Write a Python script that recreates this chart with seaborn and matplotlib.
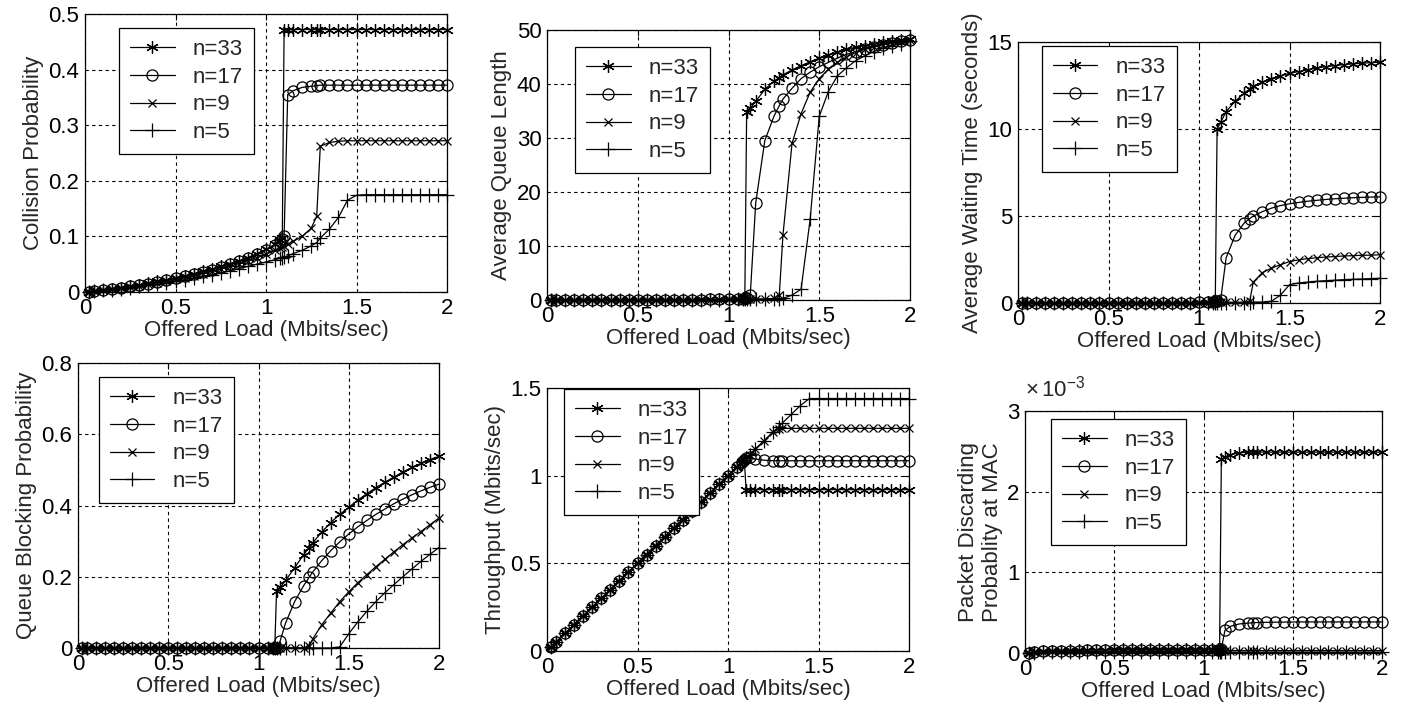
import numpy as np
import pandas as pd
import seaborn as sns
import matplotlib.pyplot as plt
from matplotlib.ticker import FuncFormatter

# offered load grid (Mbits/sec), shared by every curve
load = [0.02, 0.05, 0.10, 0.15, 0.20, 0.25, 0.30, 0.35, 0.40, 0.45, 0.50, 0.55,
        0.60, 0.65, 0.70, 0.75, 0.80, 0.85, 0.90, 0.95, 1.00, 1.05,
        1.08, 1.09, 1.10, 1.12, 1.15, 1.20, 1.25, 1.28,
        1.30, 1.35, 1.40, 1.45, 1.50, 1.55, 1.60, 1.65, 1.70, 1.75, 1.80, 1.85, 1.90, 1.95, 2.00]

labels = ['n=33', 'n=17', 'n=9', 'n=5']

# collision probability
coll_33 = [0.000, 0.002, 0.004, 0.006, 0.008, 0.011, 0.013, 0.016, 0.019, 0.022, 0.026, 0.029,
           0.033, 0.037, 0.041, 0.046, 0.051, 0.056, 0.062, 0.069, 0.077, 0.086,
           0.094, 0.098, 0.472, 0.472, 0.472, 0.472, 0.472, 0.472,
           0.472, 0.472, 0.472, 0.472, 0.472, 0.472, 0.472, 0.472, 0.472, 0.472, 0.472, 0.472, 0.472, 0.472, 0.472]
coll_17 = [0.000, 0.002, 0.004, 0.006, 0.008, 0.010, 0.012, 0.015, 0.018, 0.021, 0.025, 0.028,
           0.032, 0.036, 0.040, 0.045, 0.050, 0.055, 0.061, 0.068, 0.075, 0.084,
           0.092, 0.096, 0.100, 0.355, 0.362, 0.368, 0.370, 0.371,
           0.372, 0.372, 0.372, 0.372, 0.372, 0.372, 0.372, 0.372, 0.372, 0.372, 0.372, 0.372, 0.372, 0.372, 0.372]
coll_9 = [0.000, 0.002, 0.003, 0.005, 0.007, 0.009, 0.011, 0.014, 0.017, 0.020, 0.023, 0.026,
          0.029, 0.033, 0.037, 0.041, 0.046, 0.051, 0.056, 0.062, 0.068, 0.075,
          0.079, 0.081, 0.083, 0.086, 0.091, 0.100, 0.115, 0.136,
          0.262, 0.269, 0.271, 0.272, 0.272, 0.272, 0.272, 0.272, 0.272, 0.272, 0.272, 0.272, 0.272, 0.272, 0.272]
coll_5 = [0.000, 0.001, 0.003, 0.004, 0.006, 0.008, 0.010, 0.012, 0.014, 0.017, 0.019, 0.022,
          0.025, 0.028, 0.031, 0.034, 0.038, 0.042, 0.046, 0.050, 0.054, 0.058,
          0.061, 0.062, 0.063, 0.065, 0.069, 0.075, 0.083, 0.089,
          0.097, 0.113, 0.134, 0.165, 0.174, 0.175, 0.175, 0.175, 0.175, 0.175, 0.175, 0.175, 0.175, 0.175, 0.175]

# average queue length
queue_33 = [0.0, 0.0, 0.0, 0.0, 0.0, 0.0, 0.0, 0.0, 0.0, 0.0, 0.0, 0.0,
            0.0, 0.0, 0.0, 0.0, 0.0, 0.1, 0.1, 0.1, 0.2, 0.2,
            0.3, 0.5, 34.8, 35.5, 36.8, 39.0, 40.5, 41.2,
            41.7, 42.6, 43.4, 44.1, 44.8, 45.4, 45.9, 46.4, 46.8, 47.1, 47.4, 47.7, 47.9, 48.1, 48.3]
queue_17 = [0.0, 0.0, 0.0, 0.0, 0.0, 0.0, 0.0, 0.0, 0.0, 0.0, 0.0, 0.0,
            0.0, 0.0, 0.0, 0.0, 0.0, 0.0, 0.1, 0.1, 0.1, 0.2,
            0.2, 0.3, 0.4, 1.0, 18.0, 29.5, 34.0, 36.0,
            37.2, 39.2, 41.0, 42.2, 43.2, 44.0, 44.8, 45.5, 46.0, 46.5, 46.9, 47.3, 47.6, 47.9, 48.1]
queue_9 = [0.0, 0.0, 0.0, 0.0, 0.0, 0.0, 0.0, 0.0, 0.0, 0.0, 0.0, 0.0,
           0.0, 0.0, 0.0, 0.0, 0.0, 0.0, 0.0, 0.0, 0.1, 0.1,
           0.1, 0.1, 0.1, 0.1, 0.2, 0.2, 0.3, 1.0,
           12.0, 29.0, 34.5, 38.5, 41.0, 42.7, 44.0, 45.0, 45.8, 46.4, 46.9, 47.3, 47.6, 47.9, 48.1]
queue_5 = [0.0, 0.0, 0.0, 0.0, 0.0, 0.0, 0.0, 0.0, 0.0, 0.0, 0.0, 0.0,
           0.0, 0.0, 0.0, 0.0, 0.0, 0.0, 0.0, 0.0, 0.0, 0.1,
           0.1, 0.1, 0.1, 0.1, 0.1, 0.1, 0.2, 0.2,
           0.3, 0.9, 2.0, 15.0, 34.0, 38.6, 41.5, 43.0, 44.3, 45.2, 46.0, 46.6, 47.1, 47.5, 47.9]

# average waiting time (seconds)
wait_33 = [0.0, 0.0, 0.0, 0.0, 0.0, 0.0, 0.0, 0.0, 0.0, 0.0, 0.0, 0.0,
           0.0, 0.0, 0.0, 0.0, 0.0, 0.0, 0.0, 0.0, 0.05, 0.05,
           0.1, 0.15, 10.0, 10.4, 11.0, 11.6, 12.05, 12.3,
           12.45, 12.7, 12.9, 13.05, 13.2, 13.3, 13.4, 13.5, 13.58, 13.64, 13.7, 13.74, 13.78, 13.81, 13.84]
wait_17 = [0.0, 0.0, 0.0, 0.0, 0.0, 0.0, 0.0, 0.0, 0.0, 0.0, 0.0, 0.0,
           0.0, 0.0, 0.0, 0.0, 0.0, 0.0, 0.0, 0.0, 0.05, 0.05,
           0.05, 0.1, 0.1, 0.2, 2.6, 3.9, 4.6, 4.85,
           5.0, 5.25, 5.45, 5.6, 5.7, 5.78, 5.85, 5.9, 5.95, 5.99, 6.02, 6.05, 6.07, 6.09, 6.1]
wait_9 = [0.0, 0.0, 0.0, 0.0, 0.0, 0.0, 0.0, 0.0, 0.0, 0.0, 0.0, 0.0,
          0.0, 0.0, 0.0, 0.0, 0.0, 0.0, 0.0, 0.0, 0.0, 0.0,
          0.0, 0.0, 0.05, 0.05, 0.05, 0.05, 0.05, 0.1,
          1.2, 1.75, 2.0, 2.2, 2.38, 2.48, 2.55, 2.6, 2.64, 2.67, 2.7, 2.72, 2.74, 2.75, 2.77]
wait_5 = [0.0, 0.0, 0.0, 0.0, 0.0, 0.0, 0.0, 0.0, 0.0, 0.0, 0.0, 0.0,
          0.0, 0.0, 0.0, 0.0, 0.0, 0.0, 0.0, 0.0, 0.0, 0.0,
          0.0, 0.0, 0.0, 0.0, 0.0, 0.0, 0.0, 0.0,
          0.05, 0.05, 0.1, 0.45, 1.05, 1.15, 1.2, 1.25, 1.28, 1.31, 1.34, 1.36, 1.38, 1.4, 1.42]

# queue blocking probability
block_33 = [0.000, 0.000, 0.000, 0.000, 0.000, 0.000, 0.000, 0.000, 0.000, 0.000, 0.000, 0.000,
            0.000, 0.000, 0.000, 0.000, 0.000, 0.000, 0.000, 0.000, 0.000, 0.000,
            0.000, 0.000, 0.160, 0.170, 0.190, 0.225, 0.262, 0.282,
            0.295, 0.325, 0.352, 0.375, 0.395, 0.415, 0.433, 0.450, 0.465, 0.480, 0.494, 0.507, 0.518, 0.529, 0.538]
block_17 = [0.000, 0.000, 0.000, 0.000, 0.000, 0.000, 0.000, 0.000, 0.000, 0.000, 0.000, 0.000,
            0.000, 0.000, 0.000, 0.000, 0.000, 0.000, 0.000, 0.000, 0.000, 0.000,
            0.000, 0.000, 0.000, 0.020, 0.070, 0.130, 0.175, 0.198,
            0.213, 0.245, 0.273, 0.298, 0.320, 0.340, 0.358, 0.375, 0.390, 0.405, 0.418, 0.430, 0.441, 0.451, 0.460]
block_9 = [0.000, 0.000, 0.000, 0.000, 0.000, 0.000, 0.000, 0.000, 0.000, 0.000, 0.000, 0.000,
           0.000, 0.000, 0.000, 0.000, 0.000, 0.000, 0.000, 0.000, 0.000, 0.000,
           0.000, 0.000, 0.000, 0.000, 0.000, 0.000, 0.000, 0.005,
           0.025, 0.065, 0.098, 0.130, 0.158, 0.183, 0.206, 0.228, 0.249, 0.270, 0.290, 0.309, 0.327, 0.346, 0.365]
block_5 = [0.000, 0.000, 0.000, 0.000, 0.000, 0.000, 0.000, 0.000, 0.000, 0.000, 0.000, 0.000,
           0.000, 0.000, 0.000, 0.000, 0.000, 0.000, 0.000, 0.000, 0.000, 0.000,
           0.000, 0.000, 0.000, 0.000, 0.000, 0.000, 0.000, 0.000,
           0.000, 0.000, 0.000, 0.003, 0.040, 0.073, 0.103, 0.130, 0.155, 0.178, 0.200, 0.222, 0.243, 0.263, 0.282]

# throughput (Mbits/sec)
thr_33 = [0.02, 0.05, 0.10, 0.15, 0.20, 0.25, 0.30, 0.35, 0.40, 0.45, 0.50, 0.55,
          0.60, 0.65, 0.70, 0.75, 0.80, 0.85, 0.90, 0.95, 1.00, 1.05,
          1.08, 1.09, 0.92, 0.92, 0.92, 0.92, 0.92, 0.92,
          0.92, 0.92, 0.92, 0.92, 0.92, 0.92, 0.92, 0.92, 0.92, 0.92, 0.92, 0.92, 0.92, 0.92, 0.92]
thr_17 = [0.02, 0.05, 0.10, 0.15, 0.20, 0.25, 0.30, 0.35, 0.40, 0.45, 0.50, 0.55,
          0.60, 0.65, 0.70, 0.75, 0.80, 0.85, 0.90, 0.95, 1.00, 1.05,
          1.08, 1.09, 1.10, 1.105, 1.095, 1.088, 1.085, 1.085,
          1.085, 1.085, 1.085, 1.085, 1.085, 1.085, 1.085, 1.085, 1.085, 1.085, 1.085, 1.085, 1.085, 1.085, 1.085]
thr_9 = [0.02, 0.05, 0.10, 0.15, 0.20, 0.25, 0.30, 0.35, 0.40, 0.45, 0.50, 0.55,
         0.60, 0.65, 0.70, 0.75, 0.80, 0.85, 0.90, 0.95, 1.00, 1.05,
         1.08, 1.09, 1.10, 1.12, 1.15, 1.20, 1.25, 1.265,
         1.27, 1.27, 1.27, 1.27, 1.27, 1.27, 1.27, 1.27, 1.27, 1.27, 1.27, 1.27, 1.27, 1.27, 1.27]
thr_5 = [0.02, 0.05, 0.10, 0.15, 0.20, 0.25, 0.30, 0.35, 0.40, 0.45, 0.50, 0.55,
         0.60, 0.65, 0.70, 0.75, 0.80, 0.85, 0.90, 0.95, 1.00, 1.05,
         1.08, 1.09, 1.10, 1.12, 1.15, 1.20, 1.25, 1.28,
         1.30, 1.35, 1.40, 1.44, 1.44, 1.44, 1.44, 1.44, 1.44, 1.44, 1.44, 1.44, 1.44, 1.44, 1.44]

# packet discarding probability at MAC (units of 1e-3)
disc_33 = [0.00, 0.01, 0.02, 0.03, 0.03, 0.04, 0.04, 0.04, 0.04, 0.04, 0.05, 0.05,
           0.05, 0.05, 0.05, 0.05, 0.05, 0.05, 0.05, 0.05, 0.05, 0.05,
           0.05, 0.05, 2.40, 2.43, 2.46, 2.48, 2.49, 2.49,
           2.49, 2.49, 2.49, 2.49, 2.49, 2.49, 2.49, 2.49, 2.49, 2.49, 2.49, 2.49, 2.49, 2.49, 2.49]
disc_17 = [0.00, 0.01, 0.02, 0.02, 0.03, 0.03, 0.03, 0.04, 0.04, 0.04, 0.04, 0.04,
           0.04, 0.04, 0.04, 0.04, 0.04, 0.04, 0.04, 0.04, 0.04, 0.04,
           0.04, 0.04, 0.05, 0.28, 0.33, 0.36, 0.37, 0.375,
           0.378, 0.38, 0.382, 0.383, 0.384, 0.385, 0.385, 0.385, 0.385, 0.385, 0.385, 0.385, 0.385, 0.385, 0.385]
disc_9 = [0.00, 0.01, 0.01, 0.02, 0.02, 0.02, 0.02, 0.02, 0.02, 0.02, 0.02, 0.02,
          0.02, 0.02, 0.02, 0.02, 0.02, 0.02, 0.02, 0.02, 0.02, 0.02,
          0.02, 0.02, 0.03, 0.03, 0.03, 0.03, 0.03, 0.03,
          0.03, 0.03, 0.03, 0.03, 0.03, 0.03, 0.03, 0.03, 0.03, 0.03, 0.03, 0.03, 0.03, 0.03, 0.03]
disc_5 = [0.00, 0.00, 0.01, 0.01, 0.01, 0.01, 0.01, 0.01, 0.01, 0.01, 0.01, 0.01,
          0.01, 0.01, 0.01, 0.01, 0.01, 0.01, 0.01, 0.01, 0.01, 0.01,
          0.01, 0.01, 0.01, 0.01, 0.01, 0.01, 0.01, 0.01,
          0.01, 0.01, 0.01, 0.01, 0.01, 0.01, 0.01, 0.01, 0.01, 0.01, 0.01, 0.01, 0.01, 0.01, 0.01]

sns.set_style('white')
plt.rcParams['font.family'] = ['Liberation Sans', 'DejaVu Sans']
plt.rcParams['font.size'] = 16
plt.rcParams['mathtext.fontset'] = 'custom'
plt.rcParams['mathtext.rm'] = 'Liberation Sans'

# MATLAB-like markers: asterisk, circle, x, plus
markers = [(6, 2, 0), 'o', 'x', '+']
msizes = [9, 8, 6, 10]

# panel boxes in pixels: left, top, right, bottom
panels = [
    dict(box=(85, 14, 447, 292), series=[coll_33, coll_17, coll_9, coll_5],
         ylim=(0, 0.5), yticks=[0, 0.1, 0.2, 0.3, 0.4, 0.5],
         ylabel='Collision Probability', leg=(0.094, 0.95)),
    dict(box=(547, 30, 910, 300), series=[queue_33, queue_17, queue_9, queue_5],
         ylim=(0, 50), yticks=[0, 10, 20, 30, 40, 50],
         ylabel='Average Queue Length', leg=(0.077, 0.937)),
    dict(box=(1018, 42, 1380, 303), series=[wait_33, wait_17, wait_9, wait_5],
         ylim=(0, 15), yticks=[0, 5, 10, 15],
         ylabel='Average Waiting Time (seconds)', leg=(0.066, 0.985)),
    dict(box=(78, 363, 439, 648), series=[block_33, block_17, block_9, block_5],
         ylim=(0, 0.8), yticks=[0, 0.2, 0.4, 0.6, 0.8],
         ylabel='Queue Blocking Probability', leg=(0.058, 0.951)),
    dict(box=(547, 388, 909, 651), series=[thr_33, thr_17, thr_9, thr_5],
         ylim=(0, 1.5), yticks=[0, 0.5, 1, 1.5],
         ylabel='Throughput (Mbits/sec)', leg=(0.047, 0.996)),
    dict(box=(1025, 411, 1382, 653), series=[disc_33, disc_17, disc_9, disc_5],
         ylim=(0, 3), yticks=[0, 1, 2, 3],
         ylabel='Packet Discarding\nProbablity at MAC', leg=(0.073, 0.967)),
]

W, H = 1402, 709
fig = plt.figure(figsize=(W / 100, H / 100), dpi=100)

for i, p in enumerate(panels):
    l, t, r, b = p['box']
    ax = fig.add_axes([l / W, 1 - b / H, (r - l) / W, (b - t) / H])
    for vals, lab, m, ms in zip(p['series'], labels, markers, msizes):
        df = pd.DataFrame({'load': load, 'value': vals})
        sns.lineplot(data=df, x='load', y='value', ax=ax, color='k', lw=0.9,
                     marker=m, ms=ms, mfc='none', mec='k', mew=0.9,
                     estimator=None, sort=False, label=lab, clip_on=False)
    ax.set_xlim(0, 2)
    ax.set_ylim(*p['ylim'])
    ax.set_xticks([0, 0.5, 1, 1.5, 2])
    ax.set_yticks(p['yticks'])
    fmt = FuncFormatter(lambda v, pos: '%g' % v)
    ax.xaxis.set_major_formatter(fmt)
    ax.yaxis.set_major_formatter(fmt)
    ax.grid(True, color='k', ls=(0, (3, 3)), lw=0.8)
    ax.set_axisbelow(True)
    ax.tick_params(direction='in', length=4, width=0.8, top=True, right=True,
                   labelsize=16, pad=4, colors='k')
    for s in ax.spines.values():
        s.set_color('k')
        s.set_linewidth(0.9)
    ax.set_xlabel('Offered Load (Mbits/sec)', fontsize=16, labelpad=1)
    ax.set_ylabel(p['ylabel'], fontsize=16, labelpad=3)
    ax.legend(loc='upper left', bbox_to_anchor=p['leg'], frameon=True,
              fancybox=False, edgecolor='k', framealpha=1, fontsize=16,
              handlelength=2.0, handletextpad=0.8, labelspacing=0.3,
              borderpad=0.5, borderaxespad=0)
    ax.get_legend().get_frame().set_linewidth(0.9)
    if i == 5:
        ax.text(0, 1.04, r'$\times\,\mathregular{10^{-3}}$', transform=ax.transAxes,
                fontsize=16, ha='left', va='bottom')

fig.savefig('out.png', dpi=100, facecolor='white')
